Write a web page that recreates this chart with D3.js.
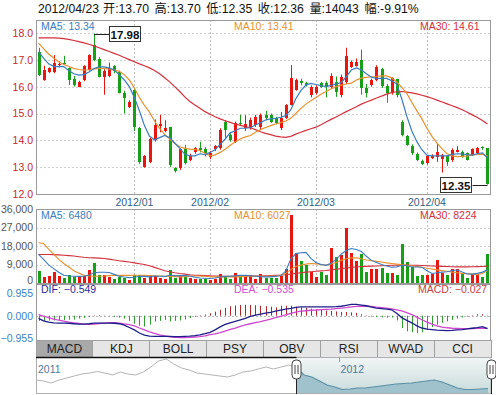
<!DOCTYPE html>
<html>
<head>
<meta charset="utf-8">
<script src="https://cdn.jsdelivr.net/npm/d3@7"></script>
<style>
  body { margin: 0; background: #fff; }
  svg { display: block; font-family: Arial, "Liberation Sans", "Noto Sans CJK SC", sans-serif; }
</style>
</head>
<body>
<svg id="chart"></svg>
<script>
// trading days shown in the window
const dec11 = [6, 7, 8, 9, 12, 13, 14, 15, 16, 19, 20, 21, 22, 23, 26, 27, 28, 29, 30];
const jan12 = [4, 5, 6, 9, 10, 11, 12, 13, 16, 17, 18, 19, 20, 30, 31];
const feb12 = [1, 2, 3, 6, 7, 8, 9, 10, 13, 14, 15, 16, 17, 20, 21, 22, 23, 24, 27, 28, 29];
const mar12 = [1, 2, 5, 6, 7, 8, 9, 12, 13, 14, 15, 16, 19, 20, 21, 22, 23, 26, 27, 28, 29, 30];
const apr12 = [5, 6, 9, 10, 11, 12, 13, 16, 17, 18, 19, 20, 23];

const open = [
  17.30, 16.25, 16.55, 16.56, 16.80, 16.90, 16.68, 16.30, 16.00, 16.25,
  16.62, 17.55, 17.02, 16.37, 16.40, 16.77, 16.56, 15.78, 15.23, 15.88,
  14.45, 13.00, 13.20, 14.01, 14.52, 14.36, 14.48, 12.96, 12.96, 13.66,
  13.27, 13.58, 13.70, 13.68, 13.37, 13.66, 13.70, 14.70, 14.20, 13.95,
  14.66, 14.45, 14.45, 14.57, 14.51, 14.94, 14.94, 14.82, 14.45, 14.82,
  15.32, 15.88, 16.21, 16.12, 15.69, 15.75, 16.12, 16.12, 16.00, 16.19,
  15.69, 16.19, 16.75, 16.77, 16.99, 15.94, 16.06, 16.25, 16.65, 16.02,
  15.75, 16.27, 14.70, 14.16, 13.79, 13.49, 13.24, 13.14, 13.33, 13.37,
  13.29, 13.42, 13.27, 13.58, 13.58, 13.52, 13.45, 13.54, 13.74, 13.70
];
const high = [
  17.45, 16.78, 16.72, 17.18, 16.95, 17.15, 16.72, 16.40, 16.22, 16.80,
  17.20, 17.98, 17.10, 16.65, 16.90, 16.80, 16.60, 15.85, 15.50, 15.90,
  14.50, 13.45, 14.10, 14.78, 14.95, 14.75, 14.50, 13.00, 13.70, 13.83,
  13.50, 13.75, 13.95, 13.75, 13.60, 13.82, 14.45, 14.75, 14.30, 14.70,
  14.95, 14.94, 14.85, 14.95, 15.00, 15.10, 15.00, 14.88, 15.05, 15.35,
  16.80, 16.30, 16.30, 16.18, 16.05, 16.05, 16.18, 16.20, 16.50, 16.38,
  16.45, 17.45, 16.98, 17.05, 17.38, 16.10, 16.30, 16.80, 16.70, 16.10,
  16.35, 16.30, 14.75, 14.20, 13.85, 13.55, 13.28, 13.45, 13.48, 13.88,
  13.50, 13.45, 13.70, 13.78, 13.62, 13.55, 13.70, 13.75, 13.78, 13.70
];
const low = [
  16.40, 16.22, 16.50, 16.50, 16.72, 16.85, 16.06, 16.00, 15.98, 16.20,
  16.60, 16.95, 16.35, 15.70, 16.35, 16.50, 15.75, 15.00, 15.20, 14.35,
  13.12, 12.98, 13.15, 13.95, 14.30, 14.30, 13.00, 12.80, 12.90, 13.10,
  13.22, 13.50, 13.55, 13.40, 13.30, 13.60, 13.65, 14.10, 13.95, 13.90,
  14.55, 14.35, 14.40, 14.50, 14.38, 14.75, 14.65, 14.60, 14.38, 14.80,
  15.30, 15.85, 16.05, 16.00, 15.60, 15.70, 15.95, 15.60, 15.95, 15.62,
  15.60, 16.10, 16.70, 16.75, 15.70, 15.60, 16.00, 16.20, 15.95, 15.40,
  15.70, 15.60, 14.15, 13.80, 13.45, 13.22, 13.08, 13.10, 13.30, 13.20,
  12.80, 13.05, 13.20, 13.55, 13.35, 13.25, 13.42, 13.50, 13.65, 12.35
];
const close = [
  16.43, 16.62, 16.68, 16.87, 16.85, 16.87, 16.25, 16.06, 16.19, 16.77,
  17.18, 17.00, 16.37, 16.60, 16.68, 16.58, 15.78, 15.57, 15.44, 14.50,
  13.20, 13.42, 14.04, 14.57, 14.60, 14.45, 13.08, 12.85, 13.66, 13.14,
  13.42, 13.70, 13.65, 13.52, 13.52, 13.79, 14.38, 14.39, 14.01, 14.66,
  14.60, 14.60, 14.76, 14.88, 14.94, 14.82, 14.70, 14.66, 14.82, 15.32,
  16.31, 16.25, 16.12, 16.06, 16.00, 16.00, 16.00, 15.98, 16.40, 15.81,
  16.37, 17.14, 16.93, 16.93, 15.94, 15.75, 16.25, 16.75, 16.02, 15.75,
  16.31, 15.69, 14.20, 13.83, 13.52, 13.27, 13.12, 13.42, 13.42, 13.58,
  13.45, 13.20, 13.64, 13.64, 13.39, 13.27, 13.66, 13.70, 13.72, 12.36
];
const volume = [
  5700, 2950, 3400, 5400, 3300, 2600, 3800, 2900, 3300, 3300,
  6200, 9500, 4100, 3800, 2900, 2100, 2800, 2500, 1300, 3800,
  4100, 2300, 4100, 3400, 2500, 2100, 6200, 2500, 3800, 2900,
  2500, 1800, 2100, 1800, 1300, 2100, 4300, 2900, 2100, 5100,
  4100, 3300, 3800, 1800, 4300, 2500, 2500, 2500, 3300, 6700,
  33200, 14400, 10600, 8700, 5400, 2900, 5400, 4100, 17200, 12800,
  13600, 27000, 14400, 10600, 13900, 5400, 6700, 6700, 7400, 5100,
  5100, 3800, 18800, 10000, 7900, 3400, 3800, 4100, 4600, 11100,
  5100, 3800, 6700, 6700, 4600, 2500, 4600, 4100, 2900, 14043
];
const changePct = -9.91;

const ma5 = [
  17.30, 17.06, 16.85, 16.76, 16.75, 16.75, 16.60, 16.48, 16.43, 16.45,
  16.55, 16.68, 16.74, 16.74, 16.70, 16.62, 16.45, 16.25, 16.00, 15.60,
  15.10, 14.55, 14.15, 14.02, 14.10, 14.18, 14.10, 13.90, 13.70, 13.48,
  13.42, 13.42, 13.50, 13.47, 13.55, 13.65, 13.85, 14.05, 14.28, 14.36,
  14.45, 14.45, 14.47, 14.57, 14.66, 14.76, 14.80, 14.82, 14.86, 14.92,
  15.13, 15.55, 15.85, 16.06, 16.12, 16.08, 16.04, 16.00, 16.05, 16.10,
  16.15, 16.37, 16.62, 16.70, 16.62, 16.48, 16.35, 16.31, 16.31, 16.31,
  16.22, 16.10, 15.55, 14.90, 14.35, 13.95, 13.65, 13.45, 13.42, 13.42,
  13.42, 13.42, 13.48, 13.50, 13.49, 13.47, 13.45, 13.50, 13.53, 13.34
];
const ma10 = [
  17.62, 17.42, 17.22, 17.07, 16.93, 16.83, 16.75, 16.68, 16.64, 16.62,
  16.63, 16.66, 16.68, 16.68, 16.66, 16.62, 16.57, 16.45, 16.25, 15.95,
  15.60, 15.30, 15.05, 14.72, 14.45, 14.22, 14.05, 13.88, 13.76, 13.70,
  13.67, 13.66, 13.62, 13.52, 13.42, 13.46, 13.55, 13.67, 13.82, 13.95,
  14.05, 14.13, 14.18, 14.30, 14.40, 14.48, 14.55, 14.61, 14.66, 14.72,
  14.82, 15.00, 15.19, 15.35, 15.48, 15.60, 15.72, 15.82, 15.92, 16.00,
  16.06, 16.10, 16.13, 16.25, 16.32, 16.35, 16.37, 16.38, 16.40, 16.40,
  16.33, 16.18, 15.98, 15.75, 15.42, 15.10, 14.80, 14.45, 14.15, 13.90,
  13.68, 13.50, 13.42, 13.39, 13.40, 13.42, 13.45, 13.48, 13.48, 13.41
];
const ma30 = [
  17.82, 17.82, 17.82, 17.82, 17.81, 17.79, 17.76, 17.72, 17.68, 17.63,
  17.58, 17.52, 17.45, 17.38, 17.31, 17.24, 17.17, 17.09, 17.01, 16.93,
  16.85, 16.78, 16.70, 16.60, 16.48, 16.33, 16.18, 16.00, 15.82, 15.62,
  15.45, 15.32, 15.20, 15.07, 14.97, 14.88, 14.80, 14.73, 14.67, 14.61,
  14.56, 14.51, 14.47, 14.40, 14.32, 14.26, 14.21, 14.16, 14.13, 14.11,
  14.15, 14.23, 14.30, 14.37, 14.43, 14.49, 14.58, 14.68, 14.78, 14.87,
  14.97, 15.07, 15.16, 15.25, 15.35, 15.43, 15.50, 15.58, 15.65, 15.72,
  15.78, 15.81, 15.82, 15.80, 15.77, 15.73, 15.68, 15.63, 15.57, 15.50,
  15.43, 15.36, 15.29, 15.22, 15.14, 15.05, 14.95, 14.85, 14.74, 14.61
];

const volMa5 = [
  13900, 11500, 8800, 7000, 5200, 3800, 3400, 3300, 3200, 3300,
  3900, 5000, 5200, 5200, 5100, 4200, 3300, 2900, 2600, 2800,
  3300, 3200, 3000, 3400, 3300, 3200, 3800, 3600, 3600, 3600,
  3400, 2800, 2400, 2300, 2200, 2400, 2900, 3200, 3300, 3500,
  3700, 3700, 3500, 3300, 3100, 3000, 3000, 3200, 3600, 5800,
  11500, 14300, 14700, 14900, 12000, 10000, 9000, 8600, 9600, 11500,
  14000, 15800, 16800, 16300, 15300, 13000, 11000, 10000, 9000, 8300,
  7700, 7800, 8600, 8400, 7800, 7800, 7700, 6000, 4600, 5000,
  5300, 5500, 6100, 6300, 5300, 4400, 4300, 4700, 5300, 6480
];
const volMa10 = [
  19600, 19200, 16500, 14000, 11500, 9500, 7800, 6000, 4800, 3800,
  3400, 3300, 3300, 3400, 3600, 3700, 3700, 3700, 3700, 3800,
  3800, 3700, 3600, 3500, 3400, 3300, 3200, 3100, 3000, 3100,
  3300, 3400, 3400, 3300, 3100, 3000, 2950, 2950, 2950, 3000,
  3100, 3200, 3300, 3300, 3300, 3300, 3350, 3400, 3700, 4700,
  6500, 8000, 8700, 9200, 9500, 9300, 9000, 8700, 9200, 10000,
  11000, 11800, 12200, 12200, 11800, 11200, 10800, 10500, 10200, 9800,
  9500, 9200, 8900, 8600, 8300, 8000, 7700, 7200, 6800, 6400,
  6000, 5700, 5300, 5000, 4700, 4500, 4300, 4100, 4600, 6027
];
const volMa30 = [
  13900, 13900, 13850, 13800, 13700, 13500, 13300, 13100, 12800, 12500,
  12300, 12200, 12100, 11900, 11600, 11200, 10800, 10500, 10200, 9800,
  9400, 9000, 8400, 7600, 6800, 6000, 5500, 5000, 4600, 4300,
  4000, 3800, 3700, 3600, 3500, 3400, 3350, 3300, 3250, 3200,
  3200, 3250, 3300, 3350, 3400, 3500, 3600, 3700, 3800, 4000,
  4400, 4700, 5000, 5300, 5500, 5700, 5900, 6100, 6400, 6700,
  7000, 7300, 7600, 7800, 8000, 8100, 8200, 8300, 8400, 8500,
  8600, 8650, 8700, 8700, 8650, 8600, 8500, 8400, 8300, 8200,
  8100, 8000, 7900, 7850, 7850, 7850, 7900, 7950, 8050, 8224
];

const dif = [
  -0.11, -0.22, -0.27, -0.30, -0.31, -0.31, -0.32, -0.34, -0.36, -0.36,
  -0.34, -0.31, -0.31, -0.31, -0.31, -0.32, -0.34, -0.40, -0.50, -0.60,
  -0.73, -0.82, -0.86, -0.87, -0.87, -0.87, -0.87, -0.88, -0.88, -0.87,
  -0.86, -0.84, -0.81, -0.76, -0.70, -0.60, -0.47, -0.37, -0.30, -0.24,
  -0.18, -0.11, -0.03, 0.02, 0.07, 0.11, 0.14, 0.19, 0.24, 0.28,
  0.31, 0.35, 0.37, 0.37, 0.37, 0.37, 0.37, 0.37, 0.37, 0.38,
  0.40, 0.44, 0.48, 0.48, 0.45, 0.42, 0.36, 0.32, 0.30, 0.28,
  0.25, 0.10, -0.08, -0.20, -0.30, -0.43, -0.52, -0.57, -0.59, -0.61,
  -0.62, -0.63, -0.62, -0.60, -0.59, -0.56, -0.53, -0.50, -0.46, -0.549
];
const dea = [
  0.05, -0.02, -0.08, -0.14, -0.19, -0.23, -0.27, -0.30, -0.33, -0.36,
  -0.37, -0.36, -0.33, -0.31, -0.29, -0.29, -0.31, -0.35, -0.38, -0.43,
  -0.52, -0.60, -0.68, -0.75, -0.81, -0.85, -0.89, -0.92, -0.93, -0.93,
  -0.92, -0.90, -0.88, -0.85, -0.80, -0.77, -0.72, -0.65, -0.58, -0.52,
  -0.45, -0.39, -0.34, -0.29, -0.25, -0.20, -0.14, -0.08, -0.03, 0.04,
  0.10, 0.15, 0.19, 0.21, 0.23, 0.24, 0.26, 0.27, 0.28, 0.30,
  0.32, 0.34, 0.37, 0.39, 0.40, 0.40, 0.39, 0.36, 0.34, 0.32,
  0.29, 0.25, 0.20, 0.13, 0.05, -0.06, -0.17, -0.27, -0.36, -0.43,
  -0.48, -0.51, -0.53, -0.54, -0.55, -0.55, -0.54, -0.53, -0.53, -0.535
];
const macdBar = [
  -0.22, -0.22, -0.20, -0.20, -0.19, -0.18, -0.17, -0.16, -0.12, -0.09,
  -0.06, 0.02, 0.03, 0.01, -0.02, -0.05, -0.08, -0.12, -0.22, -0.34,
  -0.42, -0.46, -0.38, -0.25, -0.22, -0.18, -0.24, -0.22, -0.20, -0.16,
  -0.10, -0.05, 0.02, 0.05, 0.10, 0.17, 0.25, 0.33, 0.40, 0.43,
  0.45, 0.46, 0.45, 0.44, 0.42, 0.40, 0.38, 0.35, 0.42, 0.42,
  0.42, 0.38, 0.35, 0.33, 0.30, 0.27, 0.25, 0.22, 0.20, 0.18,
  0.16, 0.16, 0.14, 0.12, 0.06, 0.02, -0.04, -0.06, -0.07, -0.08,
  -0.08, -0.20, -0.52, -0.66, -0.70, -0.74, -0.70, -0.60, -0.48, -0.38,
  -0.30, -0.24, -0.18, -0.12, -0.08, -0.04, 0.02, 0.06, 0.06, -0.027
];

// longer history for the navigator strip
const navPrice = [
  16.11, 15.74, 14.98, 16.11, 16.86, 17.62, 18.37, 18.74, 19.31, 18.74,
  17.99, 19.12, 18.37, 17.99, 19.12, 21.00, 23.26, 24.01, 22.13, 20.62,
  19.87, 18.74, 18.37, 17.99, 17.62, 17.24, 17.99, 19.12, 19.50, 20.25,
  21.00, 20.25, 21.00, 21.75, 20.62, 17.99, 17.24, 15.74, 14.23, 13.48,
  12.54, 12.73, 13.11, 13.11, 13.48, 13.86, 14.23, 14.61, 14.80, 14.98,
  15.36, 15.74, 16.11, 15.36, 14.23, 13.11, 12.54, 12.54, 12.73, 12.92
];
const navSelStart = 34;
const navYears = ['2011', '2012'];
const navYearAt = [0, 39.5];

const priceTicks = [12, 13, 14, 15, 16, 17, 18];
const volTicks = [0, 9000, 18000, 27000, 36000];
const macdTicks = [-0.955, 0, 0.955];
const tabNames = ['MACD', 'KDJ', 'BOLL', 'PSY', 'OBV', 'RSI', 'WVAD', 'CCI'];
const headerNames = ['开', '高', '低', '收', '量', '幅'];

const pad = n => String(n).padStart(2, '0');
const dates = [
  ...dec11.map(d => `2011/12/${pad(d)}`),
  ...jan12.map(d => `2012/01/${pad(d)}`),
  ...feb12.map(d => `2012/02/${pad(d)}`),
  ...mar12.map(d => `2012/03/${pad(d)}`),
  ...apr12.map(d => `2012/04/${pad(d)}`)
];
const monthStarts = dates.filter((d, i) => i > 0 && d.slice(0, 7) !== dates[i - 1].slice(0, 7));
const candles = dates.map((d, i) => ({ date: d, o: open[i], h: high[i], l: low[i], c: close[i], v: volume[i], bar: macdBar[i] }));

const left = 36, right = 491;
const pricePanel = { top: 20, bottom: 194 };
const volPanel = { top: 209, bottom: 283 };
const macdPanel = { top: 284, bottom: 340 };
const tabBar = { top: 340, bottom: 357 };
const navPanel = { top: 357, bottom: 394 };

const upColor = '#e8160f', downColor = '#17a017';
const c5 = '#3b7cc0', c10 = '#e8902e', c30 = '#d4303c';
const gridColor = '#cfcfcf', frameColor = '#9a9a9a';

const svg = d3.select('#chart').attr('width', 496).attr('height', 395);

const x = d3.scaleBand().domain(dates).range([left, 490]).paddingInner(0.35).paddingOuter(0.175);
const cx = d => x(d) + x.bandwidth() / 2;
const y = d3.scaleLinear().domain([12, 18.5]).range([pricePanel.bottom, 19.6]);
const yv = d3.scaleLinear().domain([0, 36000]).range([volPanel.bottom, volPanel.top]);
const ym = d3.scaleLinear().domain([-0.955, 0.955]).range([338.3, 293.1]);

const defs = svg.append('defs');
[['clipPrice', pricePanel], ['clipVol', volPanel], ['clipMacd', macdPanel]].forEach(([id, p]) => {
  defs.append('clipPath').attr('id', id)
    .append('rect').attr('x', left).attr('y', p.top).attr('width', right - left).attr('height', p.bottom - p.top);
});
const grad = defs.append('linearGradient').attr('id', 'navBg').attr('x1', 0).attr('y1', 0).attr('x2', 0).attr('y2', 1);
grad.append('stop').attr('offset', '0%').attr('stop-color', '#f1f5f5');
grad.append('stop').attr('offset', '100%').attr('stop-color', '#c9dbdb');

// header line: date, then one "name:value" group after another
const last = candles[candles.length - 1];
const headerValues = [last.o.toFixed(2), last.h.toFixed(2), last.l.toFixed(2), last.c.toFixed(2), String(last.v), `${changePct.toFixed(2)}%`];
const header = svg.append('text').attr('y', 12.7).attr('font-size', 12.2).attr('fill', '#111');
header.append('tspan').attr('x', 38).text(last.date);
headerNames.forEach((n, i) => {
  header.append('tspan').attr('x', 103 + i * 51.6 + (i === 5 ? 3.5 : 0)).text(`${n}:${headerValues[i]}`);
});

// frames and grids
const frame = p => svg.append('rect')
  .attr('x', left + 0.5).attr('y', p.top + 0.5)
  .attr('width', right - left - 1).attr('height', p.bottom - p.top)
  .attr('fill', 'none').attr('stroke', frameColor);

svg.append('g').selectAll('line').data(priceTicks.slice(1)).join('line')
  .attr('x1', left).attr('x2', right)
  .attr('y1', d => Math.round(y(d)) + 0.5).attr('y2', d => Math.round(y(d)) + 0.5)
  .attr('stroke', gridColor).attr('stroke-dasharray', '2,2');
svg.append('g').selectAll('line').data(volTicks.slice(1, -1)).join('line')
  .attr('x1', left).attr('x2', right)
  .attr('y1', d => Math.round(yv(d)) + 0.5).attr('y2', d => Math.round(yv(d)) + 0.5)
  .attr('stroke', gridColor).attr('stroke-dasharray', '2,2');
svg.append('line')
  .attr('x1', left).attr('x2', right)
  .attr('y1', Math.round(ym(0)) + 0.5).attr('y2', Math.round(ym(0)) + 0.5)
  .attr('stroke', '#b8b8b8').attr('stroke-dasharray', '2,2');
[pricePanel, volPanel].forEach(p => {
  svg.append('g').selectAll('line').data(monthStarts).join('line')
    .attr('x1', d => Math.round(cx(d)) + 0.5).attr('x2', d => Math.round(cx(d)) + 0.5)
    .attr('y1', p.top).attr('y2', p.bottom)
    .attr('stroke', '#bdbdbd').attr('stroke-dasharray', '2,2');
});

// candlesticks
const priceG = svg.append('g').attr('clip-path', 'url(#clipPrice)');
const colorOf = d => (d.c >= d.o ? upColor : downColor);
priceG.append('g').selectAll('line').data(candles).join('line')
  .attr('x1', d => Math.round(cx(d.date)) + 0.5).attr('x2', d => Math.round(cx(d.date)) + 0.5)
  .attr('y1', d => y(d.h)).attr('y2', d => y(d.l))
  .attr('stroke', colorOf);
priceG.append('g').selectAll('rect').data(candles).join('rect')
  .attr('x', d => Math.round(cx(d.date)) - 1)
  .attr('width', 3)
  .attr('y', d => y(Math.max(d.o, d.c)))
  .attr('height', d => Math.max(1, Math.abs(y(d.o) - y(d.c))))
  .attr('fill', colorOf)
  .attr('shape-rendering', 'crispEdges');

const line = scale => d3.line().x((d, i) => cx(dates[i])).y(d => scale(d));
[[ma30, c30], [ma10, c10], [ma5, c5]].forEach(([s, col]) => {
  priceG.append('path').datum(s)
    .attr('fill', 'none').attr('stroke', col).attr('stroke-width', 1.2)
    .attr('d', line(y));
});

// high / low markers
const hi = d3.maxIndex(high), lo = d3.minIndex(low);
const marker = (i, value, side) => {
  const px = cx(dates[i]), py = y(value);
  const bx = side > 0 ? px + 15 : px - 47;
  const g = svg.append('g');
  g.append('line')
    .attr('x1', px).attr('x2', side > 0 ? bx : bx + 32)
    .attr('y1', Math.round(py) + 0.5).attr('y2', Math.round(py) + 0.5)
    .attr('stroke', '#222');
  g.append('rect')
    .attr('x', Math.round(bx) + 0.5).attr('y', Math.round(py - 7.5) + 0.5)
    .attr('width', 31).attr('height', 15)
    .attr('fill', '#fff').attr('stroke', '#333');
  g.append('text')
    .attr('x', Math.round(bx) + 16).attr('y', Math.round(py) + 4.5)
    .attr('text-anchor', 'middle')
    .attr('font-size', 11.5).attr('font-weight', 'bold').attr('fill', '#111')
    .text(value.toFixed(2));
};
marker(hi, high[hi], 1);
marker(lo, low[lo], -1);

// volume
const volG = svg.append('g').attr('clip-path', 'url(#clipVol)');
volG.append('g').selectAll('rect').data(candles).join('rect')
  .attr('x', d => Math.round(cx(d.date)) - 1)
  .attr('width', 3)
  .attr('y', d => yv(d.v))
  .attr('height', d => yv(0) - yv(d.v))
  .attr('fill', colorOf)
  .attr('shape-rendering', 'crispEdges');
[[volMa30, c30], [volMa10, c10], [volMa5, c5]].forEach(([s, col]) => {
  volG.append('path').datum(s)
    .attr('fill', 'none').attr('stroke', col).attr('stroke-width', 1.1)
    .attr('d', line(yv));
});

// MACD
const macdG = svg.append('g').attr('clip-path', 'url(#clipMacd)');
macdG.append('g').selectAll('line').data(candles).join('line')
  .attr('x1', d => Math.round(cx(d.date)) + 0.5).attr('x2', d => Math.round(cx(d.date)) + 0.5)
  .attr('y1', ym(0)).attr('y2', d => ym(d.bar))
  .attr('stroke', d => (d.bar >= 0 ? '#b3262a' : '#2f9e2f'));
macdG.append('path').datum(dea)
  .attr('fill', 'none').attr('stroke', '#d046d0').attr('stroke-width', 1.3)
  .attr('d', line(ym));
macdG.append('path').datum(dif)
  .attr('fill', 'none').attr('stroke', '#1f1f8a').attr('stroke-width', 1.3)
  .attr('d', line(ym));

frame(pricePanel);
frame(volPanel);
frame(macdPanel);

// panel legends
const legend = (yy, items) => items.forEach(([label, col, xx]) => {
  svg.append('text').attr('x', xx).attr('y', yy)
    .attr('font-size', 10.5).attr('fill', col).text(label);
});
const f2 = d3.format('.2f'), f3 = d3.format('.3f');
legend(29.5, [[`MA5: ${f2(ma5[89])}`, c5, 41], [`MA10: ${f2(ma10[89])}`, c10, 234], [`MA30: ${f2(ma30[89])}`, c30, 420]]);
legend(219, [[`MA5: ${volMa5[89]}`, c5, 41], [`MA10: ${volMa10[89]}`, c10, 234], [`MA30: ${volMa30[89]}`, c30, 420]]);
legend(293.3, [[`DIF: ${f3(dif[89])}`, '#2b2b95', 41], [`DEA: ${f3(dea[89])}`, '#d04ed0', 234], [`MACD: ${f3(macdBar[89])}`, '#c84040', 418]]);

// axes
const styleAxis = (g, col) => g
  .call(g => g.select('.domain').remove())
  .attr('font-size', 10.5)
  .attr('font-family', 'Arial, "Liberation Sans", sans-serif')
  .call(g => g.selectAll('text').attr('fill', col));

svg.append('g').attr('transform', `translate(${left},0)`)
  .call(d3.axisLeft(y).tickValues(priceTicks).tickSize(0).tickPadding(3))
  .call(g => styleAxis(g, '#c8282c'));
svg.append('g').attr('transform', `translate(${left},0)`)
  .call(d3.axisLeft(yv).tickValues(volTicks).tickSize(0).tickPadding(3))
  .call(g => styleAxis(g, '#555'))
  .call(g => g.selectAll('text').filter(d => d === 0).attr('dy', '0.08em'));
svg.append('g').attr('transform', `translate(${left},0)`)
  .call(d3.axisLeft(ym).tickValues(macdTicks).tickSize(0).tickPadding(3).tickFormat(f3))
  .call(g => styleAxis(g, '#3a82c4'));
svg.append('g').attr('transform', `translate(0,${pricePanel.bottom})`)
  .call(d3.axisBottom(x).tickValues(monthStarts).tickSize(0).tickPadding(5).tickFormat(d => d.slice(0, 7)))
  .call(g => styleAxis(g, '#2f5f85'));

// indicator tabs
const tabW = (right - left) / tabNames.length;
const tabs = svg.append('g').selectAll('g').data(tabNames).join('g')
  .attr('transform', (d, i) => `translate(${left + i * tabW},${tabBar.top})`);
tabs.append('rect')
  .attr('width', tabW).attr('height', tabBar.bottom - tabBar.top)
  .attr('fill', (d, i) => (i === 0 ? '#a9a9a9' : '#e6e6e6'))
  .attr('stroke', '#a0a0a0')
  .attr('shape-rendering', 'crispEdges');
tabs.append('text')
  .attr('x', tabW / 2).attr('y', 13.3)
  .attr('text-anchor', 'middle')
  .attr('font-size', 12).attr('fill', '#222')
  .text(d => d);

// navigator
const navX = d3.scaleLinear().domain([0, navPrice.length - 1]).range([left, 488]);
const navY = d3.scaleLinear().domain([11, 24.5]).range([393.6, 357.7]);
const selX0 = navX(navSelStart), selX1 = navX(navPrice.length - 1) + 2.5;
const navIdx = navPrice.map((d, i) => i);

svg.append('rect')
  .attr('x', left + 0.5).attr('y', navPanel.top + 0.5)
  .attr('width', right - left - 1).attr('height', navPanel.bottom - navPanel.top - 1)
  .attr('fill', '#fff').attr('stroke', '#b0b0b0');
svg.append('rect')
  .attr('x', selX0).attr('y', navPanel.top + 1)
  .attr('width', selX1 - selX0).attr('height', navPanel.bottom - navPanel.top - 2)
  .attr('fill', 'url(#navBg)');

const older = navIdx.filter(i => i <= navSelStart);
const recent = navIdx.filter(i => i >= navSelStart);
svg.append('path').datum(older)
  .attr('fill', 'none').attr('stroke', '#b4b4b4').attr('stroke-width', 1)
  .attr('d', d3.line().x(i => navX(i)).y(i => navY(navPrice[i])));
svg.append('path').datum(recent)
  .attr('fill', '#9fc2cc').attr('stroke', 'none')
  .attr('d', d3.area().x(i => navX(i)).y0(navPanel.bottom - 1).y1(i => navY(navPrice[i])));
svg.append('path').datum(recent)
  .attr('fill', 'none').attr('stroke', '#5a90a6').attr('stroke-width', 1.2)
  .attr('d', d3.line().x(i => navX(i)).y(i => navY(navPrice[i])));

svg.append('line')
  .attr('x1', left).attr('x2', selX0)
  .attr('y1', navPanel.top + 0.5).attr('y2', navPanel.top + 0.5)
  .attr('stroke', '#111').attr('stroke-width', 1.5);

navYears.forEach((label, i) => {
  svg.append('text')
    .attr('x', navX(navYearAt[i]) + 2).attr('y', 373)
    .attr('font-size', 10.5).attr('fill', '#4b7a9b')
    .text(label);
  if (i > 0) {
    svg.append('line')
      .attr('x1', Math.round(navX(navYearAt[i])) + 0.5).attr('x2', Math.round(navX(navYearAt[i])) + 0.5)
      .attr('y1', navPanel.top).attr('y2', navPanel.top + 5)
      .attr('stroke', '#999');
  }
});

[selX0, selX1].forEach(hx => {
  const g = svg.append('g').attr('transform', `translate(${Math.round(hx) + 0.5},0)`);
  g.append('line').attr('y1', 378).attr('y2', navPanel.bottom).attr('stroke', '#222');
  g.append('rect')
    .attr('x', -4.5).attr('y', 360).attr('width', 9).attr('height', 19).attr('rx', 4)
    .attr('fill', '#fff').attr('stroke', '#444');
  [-1.5, 1.5].forEach(dx => g.append('line')
    .attr('x1', dx).attr('x2', dx).attr('y1', 365).attr('y2', 374)
    .attr('stroke', '#444'));
});
</script>
</body>
</html>
